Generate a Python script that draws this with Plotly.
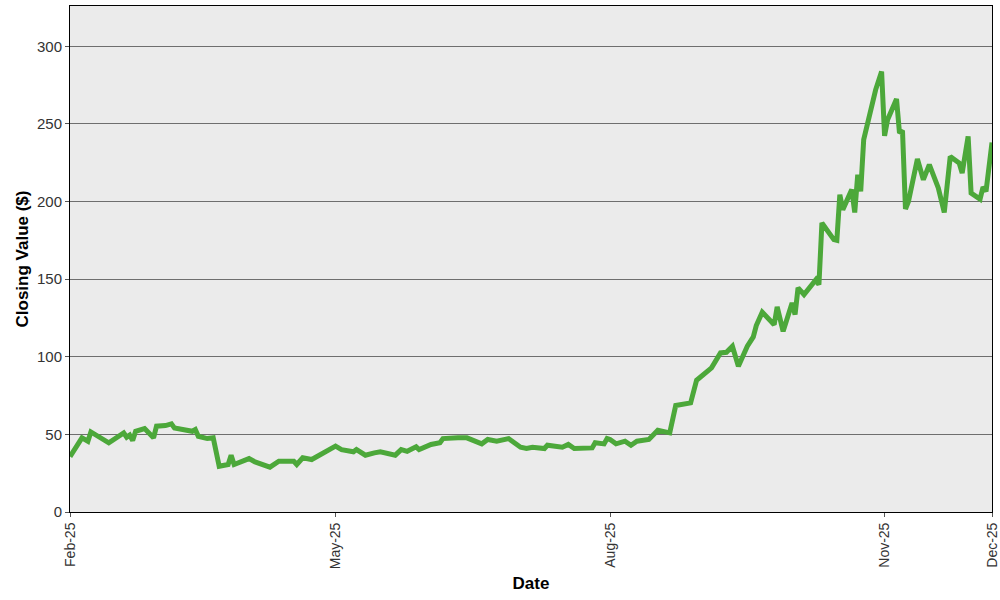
import plotly.graph_objects as go

dates = [
    "2025-02-01", "2025-02-05", "2025-02-07", "2025-02-08", "2025-02-14", "2025-02-19",
    "2025-02-20", "2025-02-21", "2025-02-22", "2025-02-23", "2025-02-26", "2025-03-01",
    "2025-03-02", "2025-03-05", "2025-03-07", "2025-03-08", "2025-03-14", "2025-03-15",
    "2025-03-16", "2025-03-19", "2025-03-21", "2025-03-23", "2025-03-26", "2025-03-27",
    "2025-03-28", "2025-04-02", "2025-04-04", "2025-04-09", "2025-04-12", "2025-04-17",
    "2025-04-18", "2025-04-20", "2025-04-23", "2025-05-01", "2025-05-03", "2025-05-07",
    "2025-05-08", "2025-05-11", "2025-05-14", "2025-05-16", "2025-05-21", "2025-05-23",
    "2025-05-25", "2025-05-28", "2025-05-29", "2025-06-02", "2025-06-05", "2025-06-06",
    "2025-06-11", "2025-06-14", "2025-06-19", "2025-06-21", "2025-06-24", "2025-06-28",
    "2025-07-02", "2025-07-04", "2025-07-06", "2025-07-10", "2025-07-11", "2025-07-16",
    "2025-07-18", "2025-07-20", "2025-07-26", "2025-07-27", "2025-07-30", "2025-07-31",
    "2025-08-01", "2025-08-03", "2025-08-06", "2025-08-08", "2025-08-10", "2025-08-14",
    "2025-08-17", "2025-08-21", "2025-08-23", "2025-08-28", "2025-08-30", "2025-09-04",
    "2025-09-07", "2025-09-09", "2025-09-11", "2025-09-13", "2025-09-16", "2025-09-18",
    "2025-09-19", "2025-09-21", "2025-09-25", "2025-09-26", "2025-09-28", "2025-10-01",
    "2025-10-02", "2025-10-03", "2025-10-05", "2025-10-09", "2025-10-10", "2025-10-11",
    "2025-10-15", "2025-10-16", "2025-10-17", "2025-10-18", "2025-10-21", "2025-10-22",
    "2025-10-23", "2025-10-24", "2025-10-25", "2025-10-28", "2025-10-29", "2025-10-31",
    "2025-11-01", "2025-11-02", "2025-11-05", "2025-11-06", "2025-11-07", "2025-11-08",
    "2025-11-09", "2025-11-12", "2025-11-14", "2025-11-16", "2025-11-19", "2025-11-21",
    "2025-11-23", "2025-11-26", "2025-11-27", "2025-11-29", "2025-11-30", "2025-12-03",
    "2025-12-04", "2025-12-05", "2025-12-07",
]

closing_values = [
    35.7, 47.8, 45.6, 51.6, 44.6, 51.0,
    48.2, 49.5, 46.0, 52.0, 53.8, 47.8,
    55.3, 55.7, 56.8, 54.2, 52.0, 53.1,
    48.8, 47.3, 47.8, 29.5, 30.6, 36.6,
    30.6, 34.4, 32.3, 28.9, 32.7, 32.7,
    30.6, 34.9, 33.8, 42.4, 40.2, 38.8,
    40.2, 36.6, 38.1, 38.8, 36.6, 40.2,
    39.1, 42.0, 40.2, 43.5, 44.6, 47.3,
    47.8, 47.8, 43.9, 46.7, 45.6, 47.3,
    41.7, 40.9, 41.7, 40.9, 43.0, 41.7,
    43.5, 40.9, 41.3, 44.6, 43.9, 47.3,
    46.7, 43.9, 45.6, 43.0, 45.6, 46.7,
    52.7, 51.0, 68.6, 70.3, 84.9, 92.9,
    102.5, 102.9, 106.8, 93.9, 106.8, 112.8,
    120.1, 128.7, 120.7, 132.1, 116.4, 134.7,
    127.2, 144.4, 140.1, 149.7, 146.5, 186.2,
    175.5, 175.0, 204.4, 194.8, 207.7, 193.0,
    217.3, 206.6, 239.9, 266.7, 272.0, 283.8,
    242.4, 252.7, 266.1, 244.2, 245.8, 195.2,
    200.1, 227.4, 214.1, 223.8, 208.8, 193.0,
    229.1, 224.8, 218.4, 242.0, 205.5, 201.6,
    209.4, 206.6, 238.1,
]

x_tick_dates = ["2025-02-01", "2025-05-01", "2025-08-01", "2025-11-01", "2025-12-07"]
x_tick_labels = ["Feb-25", "May-25", "Aug-25", "Nov-25", "Dec-25"]
y_tick_values = [0, 50, 100, 150, 200, 250, 300]

fig = go.Figure()
fig.add_trace(go.Scatter(
    x=dates, y=closing_values, mode="lines",
    line=dict(color="#4CA83A", width=5),
    showlegend=False, hoverinfo="x+y",
))

font_family = "Liberation Sans, Arial, sans-serif"

fig.update_layout(
    width=1000, height=600,
    margin=dict(l=70, r=8, t=6, b=88),
    paper_bgcolor="white",
    plot_bgcolor="#EBEBEB",
    font=dict(family=font_family, size=15, color="#333333"),
    xaxis=dict(
        range=["2025-02-01", "2025-12-07"],
        automargin=False,
        tickmode="array", tickvals=x_tick_dates, ticktext=x_tick_labels,
        tickangle=-90,
        showgrid=False, zeroline=False,
        showline=True, linecolor="black", linewidth=1, mirror=True,
        ticks="outside", ticklen=4, tickcolor="#555555",
        tickfont=dict(size=14, color="#333333"),
        title=dict(text="<b>Date</b>", font=dict(size=17, color="black"), standoff=8),
    ),
    yaxis=dict(
        range=[0, 326],
        automargin=False,
        tickmode="array", tickvals=y_tick_values,
        showgrid=True, gridcolor="#6E6E6E", gridwidth=1,
        zeroline=False,
        showline=True, linecolor="black", linewidth=1, mirror=True,
        ticks="outside", ticklen=4, tickcolor="#555555",
        tickfont=dict(size=15, color="#333333"),
        title=dict(text="<b>Closing Value ($)</b>", font=dict(size=17, color="black"), standoff=4),
    ),
)

fig.write_html(
    "out.html",
    config={"displayModeBar": False},
    post_script="document.body.style.margin='0px';document.body.style.overflow='hidden';",
)
